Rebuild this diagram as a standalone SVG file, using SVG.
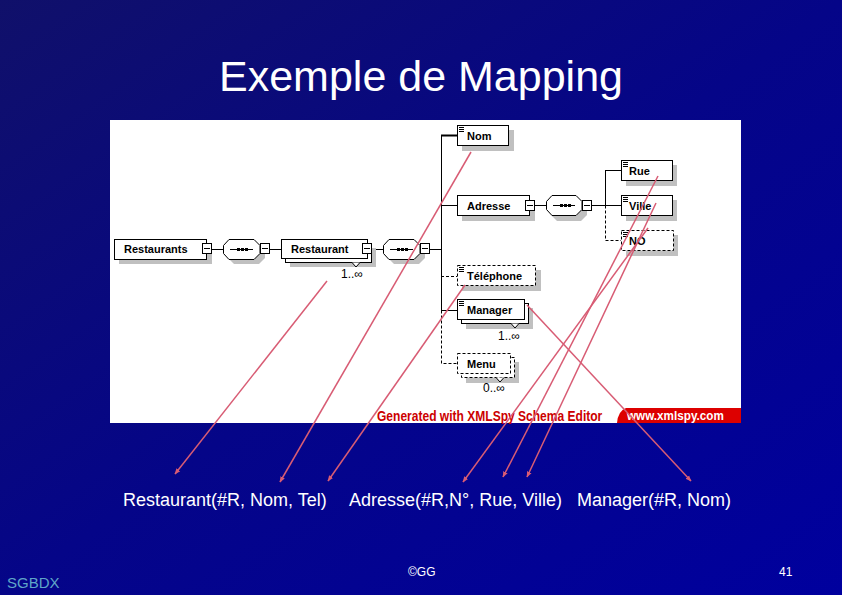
<svg xmlns="http://www.w3.org/2000/svg" width="842" height="595" viewBox="0 0 842 595">
<defs>
<linearGradient id="bg" x1="0" y1="0" x2="1" y2="1">
<stop offset="0" stop-color="#10106a"/>
<stop offset="0.5" stop-color="#050588"/>
<stop offset="1" stop-color="#00009e"/>
</linearGradient>
<marker id="ah" viewBox="0 0 10 10" refX="9" refY="5" markerWidth="6" markerHeight="6" orient="auto" markerUnits="userSpaceOnUse">
<path d="M0,1 L10,5 L0,9 Z" fill="#d85c74"/>
</marker>
<style>
.box{fill:#fff;stroke:#000;stroke-width:1}
.dbox{fill:#fff;stroke:#000;stroke-width:1;stroke-dasharray:3 2}
.sh{fill:#c0c0c0}
.lbl{font-family:"Liberation Sans",Arial,sans-serif;font-weight:bold;font-size:11px;fill:#000}
.card{font-family:"Liberation Sans",Arial,sans-serif;font-size:12px;fill:#000}
.ln{stroke:#000;stroke-width:1;fill:none}
.dl{stroke:#000;stroke-width:1;fill:none;stroke-dasharray:3 2}
.ico{stroke:#000;stroke-width:1}
.arr{stroke:#d85c74;stroke-width:1.5;fill:none;marker-end:url(#ah)}
.wt{font-family:"Liberation Sans",Arial,sans-serif;fill:#fff}
</style>
</defs>
<rect x="0" y="0" width="842" height="595" fill="url(#bg)"/>
<text class="wt" x="421" y="91" font-size="43" text-anchor="middle">Exemple de Mapping</text>
<rect x="110" y="120" width="631" height="303" fill="#fff"/>

<g id="links">
<path class="ln" d="M212,249.5H223 M270,249.5H281 M372,249.5H383 M430,249.5H441"/>
<path class="ln" d="M441.5,135V310.5"/>
<path class="dl" d="M441.5,310.5V363.5H457"/>
<path d="M441,135.5H457" stroke="#000" stroke-width="2"/>
<path class="ln" d="M441,205.5H457 M441,310.5H457 M535,205.5H546 M592,205.5H621"/>
<path class="dl" d="M441,276.5H457"/>
<path class="ln" d="M605.5,170V205.5 M605,170.5H621"/>
<path class="dl" d="M605.5,205.5V240.5H621"/>
</g>

<g id="Restaurants">
<rect class="sh" x="119" y="244" width="93" height="20"/>
<rect class="box" x="114.5" y="239.5" width="92" height="20"/>
<text class="lbl" x="124" y="253">Restaurants</text>
<rect class="box" x="202.5" y="243.5" width="9" height="10"/>
<path class="ln" d="M204,248.5H210"/>
</g>

<g id="seq1">
<polygon class="sh" points="234,244 259,244 265,250 265,258 259,264 234,264 228,258 228,250"/>
<polygon class="box" points="229,239.5 254,239.5 260,245.5 260,253.5 254,259.5 229,259.5 223.5,253.5 223.5,245.5"/>
<path class="ln" d="M230,249.5H253"/>
<rect x="237" y="248" width="3" height="3"/><rect x="241" y="248" width="3" height="3"/><rect x="245" y="248" width="3" height="3"/>
<rect class="box" x="260.5" y="243.5" width="9" height="10"/>
<path class="ln" d="M262,248.5H268"/>
</g>

<g id="Restaurant">
<rect class="sh" x="290" y="248" width="86" height="19"/>
<rect class="box" x="285.5" y="243.5" width="86" height="19"/>
<rect class="box" x="281.5" y="239.5" width="86" height="19"/>
<text class="lbl" x="291" y="253">Restaurant</text>
<rect class="box" x="362.5" y="243.5" width="9" height="10"/>
<path class="ln" d="M364,248.5H370"/>
<path d="M352,262.5 L356,267 L360,262.5" fill="#fff" stroke="#000"/>
<text class="card" x="341" y="278">1..∞</text>
</g>

<g id="seq2">
<polygon class="sh" points="394,244 419,244 425,250 425,258 419,264 394,264 388,258 388,250"/>
<polygon class="box" points="389,239.5 414,239.5 420,245.5 420,253.5 414,259.5 389,259.5 383.5,253.5 383.5,245.5"/>
<path class="ln" d="M390,249.5H413"/>
<rect x="397" y="248" width="3" height="3"/><rect x="401" y="248" width="3" height="3"/><rect x="405" y="248" width="3" height="3"/>
<rect class="box" x="420.5" y="243.5" width="9" height="10"/>
<path class="ln" d="M422,248.5H428"/>
</g>

<g id="Nom">
<rect class="sh" x="462" y="130" width="52" height="21"/>
<rect class="box" x="457.5" y="125.5" width="51" height="20"/>
<path class="ico" d="M459,127.5H464 M459,129.5H464 M459,131.5H464"/>
<text class="lbl" x="467" y="140">Nom</text>
</g>

<g id="Adresse">
<rect class="sh" x="462" y="200" width="73" height="21"/>
<rect class="box" x="457.5" y="195.5" width="72" height="20"/>
<text class="lbl" x="467" y="210">Adresse</text>
<rect class="box" x="525.5" y="200.5" width="9" height="10"/>
<path class="ln" d="M527,205.5H533"/>
</g>

<g id="seq3">
<polygon class="sh" points="557,200 581,200 587,206 587,215 581,221 557,221 551,215 551,206"/>
<polygon class="box" points="552,195.5 576,195.5 582,201.5 582,209.5 576,215.5 552,215.5 546.5,209.5 546.5,201.5"/>
<path class="ln" d="M553,205.5H575"/>
<rect x="560" y="204" width="3" height="3"/><rect x="564" y="204" width="3" height="3"/><rect x="568" y="204" width="3" height="3"/>
<rect class="box" x="582.5" y="200.5" width="9" height="10"/>
<path class="ln" d="M584,205.5H590"/>
</g>

<g id="Rue">
<rect class="sh" x="626" y="165" width="51" height="21"/>
<rect class="box" x="621.5" y="160.5" width="51" height="20"/>
<path class="ico" d="M623,162.5H628 M623,164.5H628 M623,166.5H628"/>
<text class="lbl" x="629" y="175">Rue</text>
</g>

<g id="Ville">
<rect class="sh" x="626" y="200" width="51" height="21"/>
<rect class="box" x="621.5" y="195.5" width="51" height="20"/>
<path class="ico" d="M623,197.5H628 M623,199.5H628 M623,201.5H628"/>
<text class="lbl" x="629" y="210">Ville</text>
</g>

<g id="NO">
<rect class="sh" x="626" y="235" width="52" height="21"/>
<rect class="dbox" x="621.5" y="230.5" width="52" height="20"/>
<path class="ico" d="M623,232.5H628 M623,234.5H628 M623,236.5H628"/>
<text class="lbl" x="629" y="245">NO</text>
</g>

<g id="Telephone">
<rect class="sh" x="462" y="270" width="79" height="21"/>
<rect class="dbox" x="457.5" y="265.5" width="78" height="20"/>
<path class="ico" d="M459,267.5H464 M459,269.5H464 M459,271.5H464"/>
<text class="lbl" x="467" y="280">Téléphone</text>
</g>

<g id="Manager">
<rect class="sh" x="466" y="308" width="67" height="21"/>
<rect class="box" x="461.5" y="303.5" width="67" height="20"/>
<rect class="box" x="457.5" y="299.5" width="67" height="20"/>
<path class="ico" d="M459,301.5H464 M459,303.5H464 M459,305.5H464"/>
<text class="lbl" x="467" y="314">Manager</text>
<path d="M511,323.5 L515,328 L519,323.5" fill="#fff" stroke="#000"/>
<text class="card" x="498" y="340">1..∞</text>
</g>

<g id="Menu">
<rect class="sh" x="466" y="362" width="53" height="21"/>
<rect class="dbox" x="461.5" y="357.5" width="53" height="20"/>
<rect class="dbox" x="457.5" y="353.5" width="53" height="20"/>
<text class="lbl" x="467" y="368">Menu</text>
<path d="M496,377.5 L500,382 L504,377.5" fill="#fff" stroke="#000"/>
<text class="card" x="483" y="392">0..∞</text>
</g>

<g id="credits">
<text transform="translate(377,421) scale(0.86,1)" x="0" y="0" font-family="'Liberation Sans',Arial,sans-serif" font-weight="bold" font-size="14" fill="#cc0000">Generated with XMLSpy Schema Editor</text>
<path d="M626,408 H741 V423 H617 Q618,411 626,408 Z" fill="#dd0000"/>
<text transform="translate(627,420) scale(0.9,1)" x="0" y="0" font-family="'Liberation Sans',Arial,sans-serif" font-weight="bold" font-size="13" fill="#fff">www.xmlspy.com</text>
</g>

<g id="arrows">
<line class="arr" x1="327" y1="281" x2="175" y2="474"/>
<line class="arr" x1="471" y1="152" x2="280" y2="482"/>
<line class="arr" x1="465" y1="285" x2="328" y2="481"/>
<line class="arr" x1="648" y1="228" x2="463" y2="482"/>
<line class="arr" x1="658" y1="176" x2="503" y2="477"/>
<line class="arr" x1="656" y1="203" x2="527" y2="477"/>
<line class="arr" x1="527" y1="305" x2="691" y2="481"/>
</g>

<g id="relations">
<text class="wt" x="123" y="506" font-size="18">Restaurant(#R, Nom, Tel)</text>
<text class="wt" x="349" y="506" font-size="18">Adresse(#R,N°, Rue, Ville)</text>
<text class="wt" x="577" y="506" font-size="18">Manager(#R, Nom)</text>
</g>

<g id="footer">
<text x="7" y="588" font-family="'Liberation Sans',Arial,sans-serif" font-size="15" fill="#5fa6c8">SGBDX</text>
<text class="wt" x="408" y="576" font-size="12">©GG</text>
<text class="wt" x="779" y="576" font-size="12">41</text>
</g>
</svg>
